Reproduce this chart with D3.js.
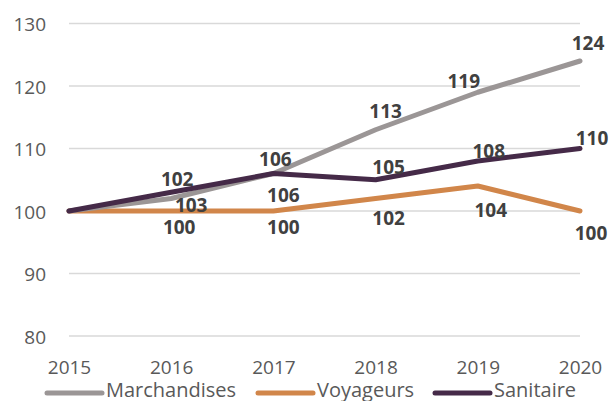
<!DOCTYPE html>
<html>
<head>
<meta charset="utf-8">
<script src="https://cdn.jsdelivr.net/npm/d3@7"></script>
<style>
  body { margin: 0; background: #fff; }
  text { font-family: "Open Sans", "Liberation Sans", sans-serif; }
</style>
</head>
<body>
<div id="chart"></div>
<script>
// data
const years = ["2015", "2016", "2017", "2018", "2019", "2020"];
const marchandises = [100, 102, 106, 113, 119, 124];
const voyageurs = [100, 100, 100, 102, 104, 100];
const sanitaire = [100, 103, 106, 105, 108, 110];
const yTicks = [80, 90, 100, 110, 120, 130];

// label offsets (dx, dy) relative to each point, like Excel placed them
const series = [
  { name: "Marchandises", values: marchandises, color: "#9b9696",
    offsets: [null, [6, -19], [2, -14], [10, -18], [-14, -11], [8, -18]] },
  { name: "Voyageurs", values: voyageurs, color: "#d1864a",
    offsets: [null, [8, 16], [10, 16], [13, 20], [13, 24], [11, 22]] },
  { name: "Sanitaire", values: sanitaire, color: "#452a48",
    offsets: [null, [20, 13], [10, 22], [13, -12], [11, -10], [12, -10]] }
];

const width = 610, height = 401;
const margin = { top: 23, right: 30, bottom: 65, left: 69 };

const svg = d3.select("#chart")
  .append("svg")
  .attr("width", width)
  .attr("height", height);

const x = d3.scalePoint()
  .domain(years)
  .range([margin.left, width - margin.right]);

const y = d3.scaleLinear()
  .domain([80, 130])
  .range([height - margin.bottom, margin.top + 0.5]);

// gridlines
svg.append("g")
  .selectAll("line")
  .data(yTicks)
  .join("line")
  .attr("x1", margin.left)
  .attr("x2", width - margin.right)
  .attr("y1", d => y(d))
  .attr("y2", d => y(d))
  .attr("stroke", "#d9d9d9")
  .attr("stroke-width", 1.3);

// y axis labels
const yAxis = svg.append("g")
  .attr("transform", `translate(${margin.left - 23}, 1)`)
  .call(d3.axisLeft(y).tickValues(yTicks).tickSize(0).tickPadding(0));
yAxis.select(".domain").remove();
yAxis.selectAll("text")
  .attr("font-size", "19px")
  .attr("fill", "#595959")
  .style("font-family", "'Open Sans', sans-serif");

// x axis labels
const xAxis = svg.append("g")
  .attr("transform", `translate(0, ${height - margin.bottom + 24})`)
  .call(d3.axisBottom(x).tickSize(0).tickPadding(0));
xAxis.select(".domain").remove();
xAxis.selectAll("text")
  .attr("font-size", "19px")
  .attr("fill", "#595959")
  .attr("dy", "0.71em")
  .style("font-family", "'Open Sans', sans-serif");

const line = d3.line()
  .x((d, i) => x(years[i]))
  .y(d => y(d));

// draw lines: voyageurs, marchandises, then sanitaire on top
[series[1], series[0], series[2]].forEach(s => {
  svg.append("path")
    .datum(s.values)
    .attr("d", line)
    .attr("fill", "none")
    .attr("stroke", s.color)
    .attr("stroke-width", 5)
    .attr("stroke-linejoin", "round")
    .attr("stroke-linecap", "round");
});

// data labels
series.forEach(s => {
  svg.append("g")
    .selectAll("text")
    .data(s.values.map((v, i) => ({ v, i })).filter(d => s.offsets[d.i]))
    .join("text")
    .attr("x", d => x(years[d.i]) + s.offsets[d.i][0])
    .attr("y", d => y(d.v) + s.offsets[d.i][1])
    .attr("dy", "0.35em")
    .attr("text-anchor", "middle")
    .attr("font-size", "19px")
    .attr("font-weight", "bold")
    .attr("fill", "#404040")
    .text(d => d.v);
});

// legend (sits at the very bottom, partly cut like the original)
const legendX = [47, 258, 435];
const legend = svg.append("g")
  .selectAll("g")
  .data(series)
  .join("g")
  .attr("transform", (d, i) => `translate(${legendX[i]}, 393)`);

legend.append("line")
  .attr("x1", 0)
  .attr("x2", 55)
  .attr("stroke", d => d.color)
  .attr("stroke-width", 5)
  .attr("stroke-linecap", "round");

legend.append("text")
  .attr("x", 59)
  .attr("y", 4)
  .attr("font-size", "20px")
  .attr("fill", "#595959")
  .text(d => d.name);
</script>
</body>
</html>
